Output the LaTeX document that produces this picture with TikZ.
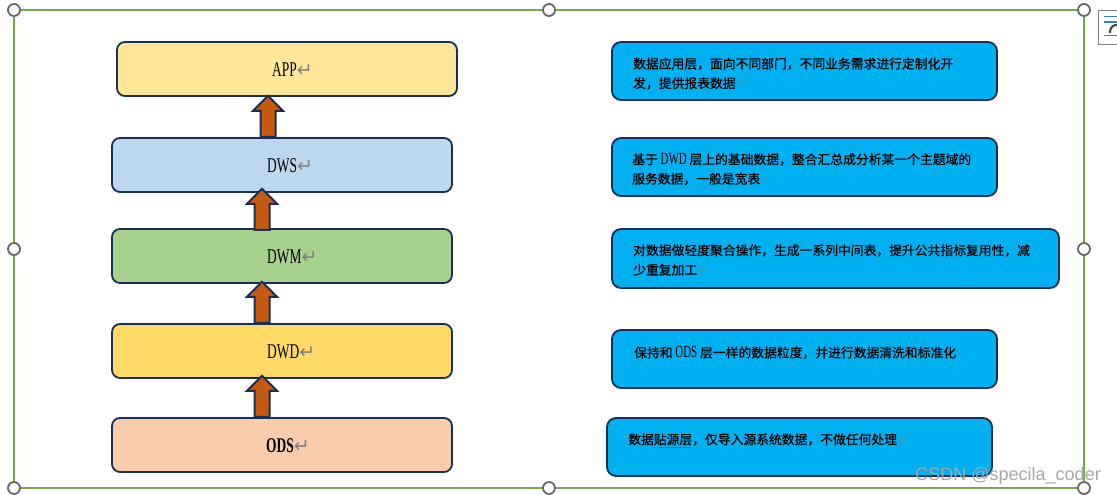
\documentclass[tikz,border=0pt]{standalone}
\usepackage{fontspec}
\setmainfont{Liberation Serif}
\newfontfamily\cjk[FakeBold=0.5]{Noto Sans CJK SC}
\newfontfamily\lat[FakeStretch=0.64]{Liberation Serif}
\newfontfamily\mrk{DejaVu Sans}
\newfontfamily\wmk{Liberation Sans}
\usetikzlibrary{shapes.arrows, positioning}
\definecolor{appfill}{HTML}{FFE699}
\definecolor{dwsfill}{HTML}{BDD7EE}
\definecolor{dwmfill}{HTML}{A9D18E}
\definecolor{dwdfill}{HTML}{FFD966}
\definecolor{odsfill}{HTML}{F8CBAD}
\definecolor{descfill}{HTML}{00B0F0}
\definecolor{boxline}{HTML}{1B2F55}
\definecolor{arrfill}{HTML}{C55A11}
\definecolor{framegreen}{HTML}{70AD47}
\definecolor{handleline}{HTML}{666666}
\newcommand{\retmark}[2]{{\mrk\mdseries\fontsize{#1}{#1}\selectfont\color{#2}\char"21B5}}

\begin{document}
\begin{tikzpicture}[
    x=1pt, y=-1pt,
    layerbox/.style={draw=boxline, line width=1.8pt, rounded corners=8pt, minimum width=340pt, minimum height=54pt, inner sep=0pt},
    descbox/.style={draw=boxline, line width=1.8pt, rounded corners=9pt, fill=descfill, inner sep=0pt},
    lbl/.style={anchor=west, font=\fontsize{21}{24}\selectfont\lat, inner sep=0pt},
    desctxt/.style={anchor=west, align=left, inner sep=0pt, font=\fontsize{12.8}{19.5}\selectfont\cjk},
    uparrow/.style={single arrow, draw=boxline, line width=2pt, fill=arrfill, rotate=90, minimum height=41pt, single arrow head extend=7.5pt, single arrow head indent=0pt, single arrow tip angle=90, inner xsep=0pt, inner ysep=6.5pt},
    handle/.style={circle, draw=handleline, fill=white, line width=1.8pt, minimum size=12pt, inner sep=0pt},
    wmark/.style={font=\fontsize{18}{20}\selectfont\wmk, text=gray!70, inner sep=0pt}
]
    \useasboundingbox (0,0) rectangle (1117,495);

    % selection frame
    \coordinate (ftl) at (14,10);
    \coordinate (fbr) at (1084,488);
    \draw[framegreen, line width=1.5pt] (ftl) rectangle (fbr);
    \node[handle] (h1) at (14,10) {};
    \node[handle] (h2) at (549,10) {};
    \node[handle] (h3) at (1084,10) {};
    \node[handle] (h4) at (14,249) {};
    \node[handle] (h5) at (1084,249) {};
    \node[handle] (h6) at (14,488) {};
    \node[handle] (h7) at (549,488) {};
    \node[handle] (h8) at (1084,488) {};

    % layout icon
    \draw[gray, line width=0.8pt] (1117,10.5) -- (1098.5,10.5) -- (1098.5,44) -- (1117,44);
    \draw[blue!50!cyan!70!gray, line width=1.2pt] (1104,16.5) -- (1117,16.5);
    \draw[blue!50!cyan!70!gray, line width=1.2pt] (1104,22) -- (1117,22);
    \draw[blue!50!cyan!70!gray, line width=1.2pt] (1104,35.5) -- (1117,35.5);
    \draw[black!75, line width=2pt] (1110,33) .. controls (1110,26) and (1114,25) .. (1117,25);

    % layers
    \node[layerbox, fill=appfill] (app) at (287,69) {};
    \node[layerbox, fill=dwsfill] (dws) at (282,165) {};
    \node[layerbox, fill=dwmfill] (dwm) at (282,256) {};
    \node[layerbox, fill=dwdfill] (dwd) at (282,351) {};
    \node[layerbox, fill=odsfill] (ods) at (282,445) {};

    \node[lbl] (lapp) at (272,70) {APP\retmark{19}{gray}};
    \node[lbl] (ldws) at (267,166) {DWS\retmark{19}{gray}};
    \node[lbl] (ldwm) at (267,257) {DWM\retmark{19}{gray}};
    \node[lbl] (ldwd) at (267,352) {DWD\retmark{19}{gray}};
    \node[lbl] (lods) at (266,446) {\bfseries ODS\retmark{19}{gray}};

    % arrows
    \node[uparrow] (a1) at (268,120) {};
    \node[uparrow] (a2) at (262,213) {};
    \node[uparrow] (a3) at (262,306) {};
    \node[uparrow] (a4) at (262,400) {};

    % descriptions
    \node[descbox, minimum width=385pt, minimum height=58pt] (dapp) at (804.5,71) {};
    \node[descbox, minimum width=385pt, minimum height=58pt] (ddws) at (804.5,167) {};
    \node[descbox, minimum width=447pt, minimum height=59pt] (ddwm) at (835.5,258.5) {};
    \node[descbox, minimum width=385pt, minimum height=58pt] (ddwd) at (804.5,359) {};
    \node[descbox, minimum width=385pt, minimum height=58pt] (dods) at (799.5,447) {};

    \node[desctxt] (tapp) at (633,73.5) {数据应用层，面向不同部门，不同业务需求进行定制化开\\发，提供报表数据\retmark{12}{descfill!50!gray}};
    \node[desctxt] (tdws) at (632,169) {基于 {\lat\fontsize{17}{19.5}\selectfont DWD} 层上的基础数据，整合汇总成分析某一个主题域的\\服务数据，一般是宽表\retmark{12}{descfill!50!gray}};
    \node[desctxt] (tdwm) at (633,260) {对数据做轻度聚合操作，生成一系列中间表，提升公共指标复用性，减\\少重复加工\retmark{12}{descfill!50!gray}};
    \node[desctxt] (tdwd) at (634,352.5) {保持和 {\lat\fontsize{17}{19.5}\selectfont ODS} 层一样的数据粒度，并进行数据清洗和标准化\retmark{12}{descfill!50!gray}};
    \node[desctxt] (tods) at (628,439.5) {数据贴源层，仅导入源系统数据，不做任何处理\retmark{12}{descfill!50!gray}};
    \draw[blue!70, line width=0.6pt] (653,447.5) -- (691,447.5);

    \node[wmark, anchor=east] (csdn) at (1101,476) {CSDN @specila\_coder};
\end{tikzpicture}
\end{document}
